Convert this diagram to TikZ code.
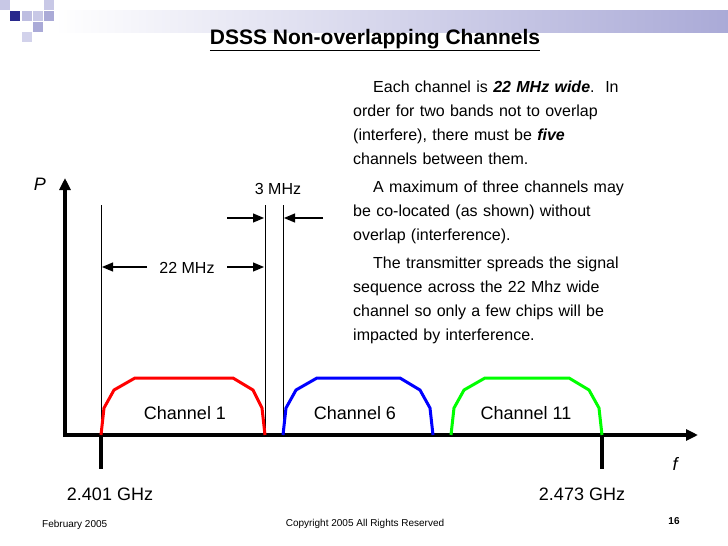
\documentclass[tikz,border=0pt]{standalone}
\usepackage{fontspec}
\setmainfont{Liberation Sans}
\usetikzlibrary{arrows.meta}
\definecolor{lav1}{RGB}{200,200,230}
\definecolor{lav2}{RGB}{170,170,215}
\definecolor{lav3}{RGB}{210,210,235}
\definecolor{lav4}{RGB}{190,190,225}
\definecolor{navy}{RGB}{40,40,140}
\begin{document}
\begin{tikzpicture}[x=1pt,y=-1pt,
  txt/.style={font=\fontsize{16}{24}\selectfont,inner sep=0pt},
  big/.style={font=\fontsize{18}{20}\selectfont,inner sep=0pt},
  thin line/.style={line width=1pt},
  dimarrow/.style={line width=1.2pt,-{Triangle[length=11pt,width=9pt]}},
  chan/.style={line width=3pt}]
\useasboundingbox (0,0) rectangle (728,546);
\fill[white] (0,0) rectangle (728,546);
% header decoration
\shade[left color=white,right color=lav2] (55,10) rectangle (728,32);
\fill[lav1] (0,0) rectangle (10,10);
\fill[navy] (10,11) rectangle (20,21);
\fill[lav1] (33,11) rectangle (43,21);
\fill[lav2] (44,11) rectangle (54,21);
\fill[lav1] (44,0) rectangle (54,10);
\fill[lav2] (33,22) rectangle (43,32);
\fill[lav3] (22,32) rectangle (32,42);
\fill[lav4] (22,11) rectangle (32,21);
\node[font=\fontsize{21}{23}\selectfont\bfseries,inner sep=0pt] (title) at (375,40) {\underline{DSSS Non-overlapping Channels}};
% text block
\node[txt,anchor=north west,align=left,text width=370pt] (desc) at (353,81) {%
\hspace*{20pt}Each channel is \textbf{\textit{22 MHz wide}}.\ \ In\\
order for two bands not to overlap\\
(interfere), there must be \textbf{\textit{five}}\\
channels between them.\\[4pt]
\hspace*{20pt}A maximum of three channels may\\
be co-located (as shown) without\\
overlap (interference).\\[4pt]
\hspace*{20pt}The transmitter spreads the signal\\
sequence across the 22 Mhz wide\\
channel so only a few chips will be\\
impacted by interference.};
% axes
\coordinate (ytop) at (65,178);
\coordinate (xend) at (698,435);
\draw[line width=4pt,-{Triangle[length=12pt,width=11pt]}] (65,437) -- (ytop);
\draw[line width=4pt,-{Triangle[length=12pt,width=11pt]}] (63,435) -- (xend);
\node[big,font=\fontsize{18}{20}\selectfont\itshape] (P) at (40,184) {P};
\node[big,font=\fontsize{18}{20}\selectfont\itshape] (f) at (675,464) {f};
\draw[line width=4pt] (101,435) -- (101,469);
\draw[line width=4pt] (602,435) -- (602,469);
\node[big] (g1) at (110,494) {2.401 GHz};
\node[big] (g2) at (582,494) {2.473 GHz};
% vertical reference lines
\draw[thin line] (101,205) -- (101,435);
\draw[thin line] (265,205) -- (265,435);
\draw[thin line] (283,205) -- (283,435);
% channels
\draw[chan,red] (101,435) -- (104,408) -- (114,390) -- (135,378) -- (233,378) -- (253,390) -- (262,408) -- (265,435);
\draw[chan,blue] (283,435) -- (286,408) -- (296,390) -- (317,378) -- (400,378) -- (420,390) -- (430,408) -- (433,435);
\draw[chan,green] (451,435) -- (454,408) -- (464,390) -- (485,378) -- (569,378) -- (589,390) -- (599,408) -- (602,435);
\node[big] (c1) at (185,413) {Channel 1};
\node[big] (c6) at (355,413) {Channel 6};
\node[big] (c11) at (526,413) {Channel 11};
% dimension arrows
\coordinate (a1) at (147,267); \coordinate (a1e) at (102,267);
\coordinate (a2) at (227,267); \coordinate (a2e) at (264,267);
\draw[dimarrow] (a1) -- (a1e);
\draw[dimarrow] (a2) -- (a2e);
\node[txt] (m22) at (187,268) {22 MHz};
\coordinate (b1) at (227,218); \coordinate (b1e) at (264,218);
\coordinate (b2) at (323,218); \coordinate (b2e) at (284,218);
\draw[dimarrow] (b1) -- (b1e);
\draw[dimarrow] (b2) -- (b2e);
\node[txt] (m3) at (278,189) {3 MHz};
% footer
\node[txt,font=\fontsize{10}{12}\selectfont,anchor=west] (date) at (42,525) {February 2005};
\node[txt,font=\fontsize{10}{12}\selectfont] (copy) at (365,524) {Copyright 2005 All Rights Reserved};
\node[txt,font=\fontsize{10}{12}\selectfont\bfseries] (pg) at (674,521) {16};
\end{tikzpicture}
\end{document}
